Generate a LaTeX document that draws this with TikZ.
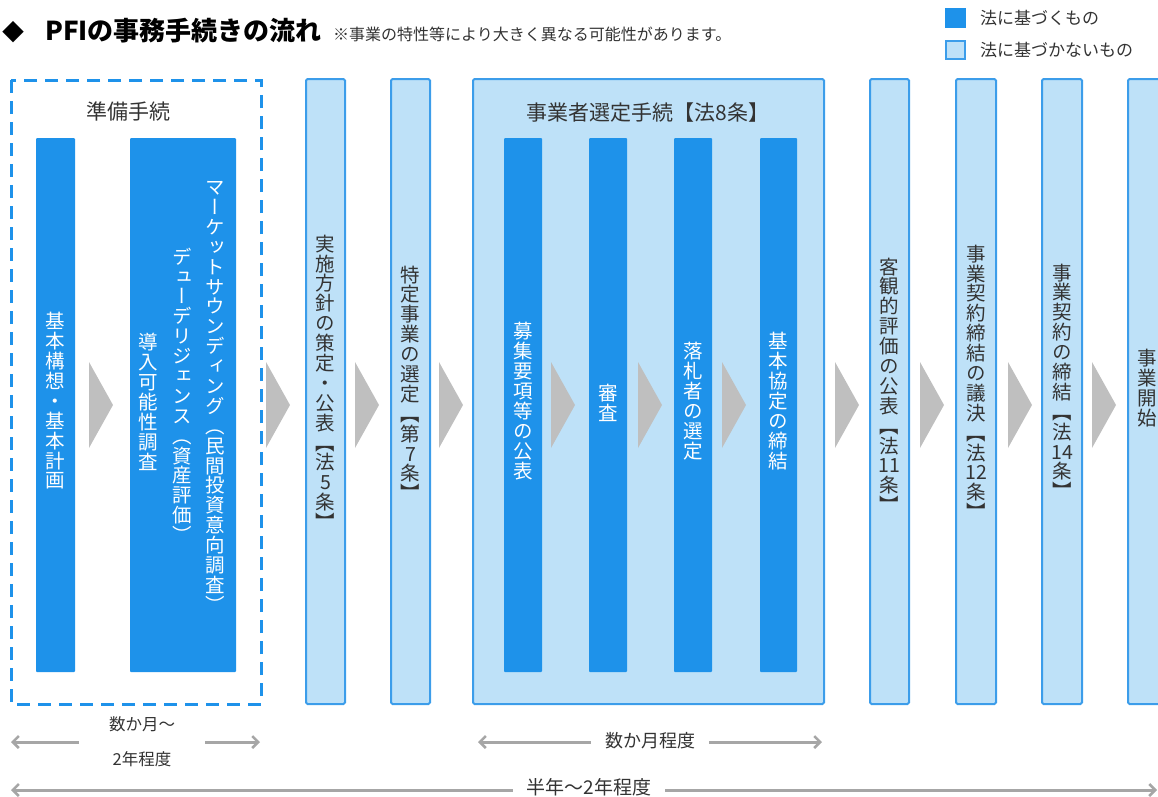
\documentclass[tikz,border=0pt]{standalone}
\usepackage{fontspec}
\setmainfont{Noto Sans CJK JP}
\newfontfamily\vfont{Noto Sans CJK JP}[RawFeature=+vert]
\usetikzlibrary{arrows.meta}
\definecolor{dkblue}{HTML}{1E92EA}
\definecolor{ltblue}{HTML}{BEE1F8}
\definecolor{edgeblue}{HTML}{3C9DEA}
\definecolor{trigray}{HTML}{BFBFBF}
\definecolor{txtgray}{HTML}{333333}
\definecolor{arrgray}{HTML}{A6A6A6}
\makeatletter
\let\vt@end\relax
\def\vt@endm{\vt@end}
\newcommand\vtext[1]{\vbox{\offinterlineskip\vt@loop#1\vt@end}}
\def\vt@loop#1{\def\vt@tmp{#1}\ifx\vt@tmp\vt@endm\else\hbox to 1em{\hss\vrule height .89em depth .13em width 0pt\relax#1\hss}\expandafter\vt@loop\fi}
\makeatother
\begin{document}
\begin{tikzpicture}[x=1pt,y=-1pt,
  darkbar/.style={fill=dkblue, draw=none, inner sep=0pt, rounded corners=1pt},
  lightcol/.style={fill=ltblue, draw=edgeblue, line width=2pt, inner sep=0pt, rounded corners=1.5pt},
  tri/.style={fill=trigray, draw=none},
  vwhite/.style={inner sep=0pt, text=white, font=\vfont\fontsize{19.5}{19.5}\selectfont},
  vdark/.style={inner sep=0pt, text=txtgray, font=\vfont\fontsize{19.5}{19.5}\selectfont},
  hlab/.style={inner sep=0pt, text=txtgray, font=\fontsize{21}{21}\selectfont},
  blab/.style={inner sep=0pt, text=txtgray, font=\fontsize{16.5}{16.5}\selectfont},
  garrow/.style={draw=arrgray, line width=3pt, -{Straight Barb[length=6pt,width=12pt,line width=2.5pt]}},
  legbox/.style={minimum width=21pt, minimum height=20pt, inner sep=0pt}
]
\useasboundingbox (0,0) rectangle (1158,796);

% title
\node[anchor=west, inner sep=0pt, font=\fontsize{22}{22}\selectfont] (dia) at (2,32) {◆};
\node[anchor=west, inner sep=0pt, font=\bfseries\fontsize{26}{26}\selectfont] (title) at (45,31) {PFIの事務手続きの流れ};
\node[anchor=west, inner sep=0pt, text=txtgray, font=\fontsize{16}{16}\selectfont] (sub) at (333,34) {※事業の特性等により大きく異なる可能性があります。};

% legend
\node[legbox, fill=dkblue] (lg1) at (955,18) {};
\node[anchor=west, inner sep=0pt, text=txtgray, font=\fontsize{17}{17}\selectfont] (lt1) at (980,18) {法に基づくもの};
\node[legbox, fill=ltblue, draw=edgeblue, line width=2pt, minimum width=19pt, minimum height=18pt] (lg2) at (955,50) {};
\node[anchor=west, inner sep=0pt, text=txtgray, font=\fontsize{17}{17}\selectfont] (lt2) at (980,50) {法に基づかないもの};

% preparation box
\draw[dkblue, line width=3pt, dash pattern=on 13pt off 8pt] (11,80) rectangle (261,704);
\node[hlab] (prep) at (128,111) {準備手続};
\fill[darkbar] (36,138) rectangle (75,672);
\fill[darkbar] (130,138) rectangle (236,672);
\node[vwhite] (t1) at (55.5,401) {\vtext{基本構想・基本計画}};
\node[vwhite] (t2a) at (215,396) {\vtext{マーケットサウンディング（民間投資意向調査）}};
\node[vwhite] (t2b) at (182,396) {\vtext{デューデリジェンス（資産評価）}};
\node[vwhite] (t2c) at (148,402) {\vtext{導入可能性調査}};

% light columns
\draw[lightcol] (306,79) rectangle (345,704);
\draw[lightcol] (391,79) rectangle (430,704);
\draw[lightcol] (473,79) rectangle (824,704);
\draw[lightcol] (870,79) rectangle (909,704);
\draw[lightcol] (956,79) rectangle (996,704);
\draw[lightcol] (1042,79) rectangle (1082,704);
\draw[lightcol] (1128,79) rectangle (1168,704);

\node[vdark] (c1) at (325.5,383) {\vtext{実施方針の策定・公表【法5条】}};
\node[vdark] (c2) at (410.5,384) {\vtext{特定事業の選定【第7条】}};
\node[hlab] (sel) at (648,113) {事業者選定手続【法8条】};

\fill[darkbar] (504,138) rectangle (542,672);
\fill[darkbar] (589,138) rectangle (627,672);
\fill[darkbar] (674,138) rectangle (712,672);
\fill[darkbar] (760,138) rectangle (797,672);
\node[vwhite] (s1) at (523,401) {\vtext{募集要項等の公表}};
\node[vwhite] (s2) at (608,403) {\vtext{審査}};
\node[vwhite] (s3) at (693,401) {\vtext{落札者の選定}};
\node[vwhite] (s4) at (778.5,401) {\vtext{基本協定の締結}};

\node[vdark] (c3) at (889.5,386) {\vtext{客観的評価の公表【法{11}条】}};
\node[vdark] (c4) at (976,383) {\vtext{事業契約締結の議決【法{12}条】}};
\node[vdark] (c5) at (1062,382) {\vtext{事業契約の締結【法{14}条】}};
\node[vdark] (c6) at (1147,388) {\vtext{事業開始}};

% triangles
\foreach \a in {89,266,355,439,551,638,722,835,920,1008,1092}
  \fill[tri] (\a,362) -- (\a+24,405) -- (\a,448) -- cycle;

% bottom spans
\node[blab] (p1) at (142,724) {数か月～};
\node[blab] (p2) at (142,759) {2年程度};
\coordinate (p1l) at (11,742);
\coordinate (p1r) at (260,742);
\draw[garrow] (79,742) -- (p1l);
\draw[garrow] (205,742) -- (p1r);

\node[blab, font=\fontsize{18}{18}\selectfont] (q1) at (650,741) {数か月程度};
\coordinate (q1l) at (478,742);
\coordinate (q1r) at (822,742);
\draw[garrow] (q1.west) ++(-14,1) -- (q1l);
\draw[garrow] (q1.east) ++(14,1) -- (q1r);

\node[blab, font=\fontsize{19}{19}\selectfont] (r1) at (589,787) {半年～2年程度};
\coordinate (r1l) at (11,790);
\coordinate (r1r) at (1157,790);
\draw[garrow] (r1.west) ++(-14,3) -- (r1l);
\draw[garrow] (r1.east) ++(14,3) -- (r1r);
\end{tikzpicture}
\end{document}
